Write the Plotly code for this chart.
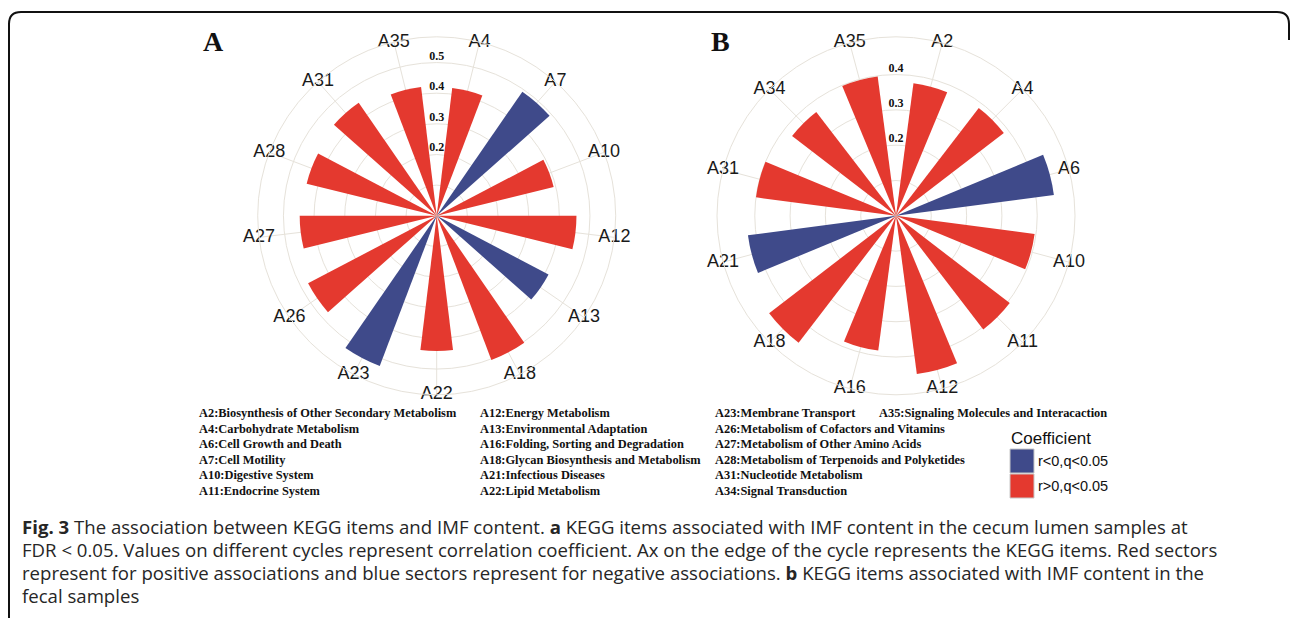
import plotly.graph_objects as go

# ---------------- data ----------------
cats_a = ["A4", "A7", "A10", "A12", "A13", "A18", "A22", "A23", "A26", "A27", "A28", "A31", "A35"]
coef_a = [0.420, -0.492, 0.393, 0.456, -0.412, 0.503, 0.441, -0.524, 0.474, 0.447, 0.437, 0.448, 0.423]
ticks_a = [0.2, 0.3, 0.4, 0.5]
grid_a = [0.1, 0.2, 0.3, 0.4, 0.5]

cats_b = ["A2", "A4", "A6", "A10", "A11", "A12", "A16", "A18", "A21", "A31", "A34", "A35"]
coef_b = [0.379, 0.385, -0.451, 0.396, 0.406, 0.452, 0.385, 0.453, -0.423, 0.400, 0.371, 0.398]
ticks_b = [0.2, 0.3, 0.4]
grid_b = [0.1, 0.2, 0.3, 0.4]

key_col1 = ["A2:Biosynthesis of Other Secondary Metabolism", "A4:Carbohydrate Metabolism",
            "A6:Cell Growth and Death", "A7:Cell Motility", "A10:Digestive System", "A11:Endocrine System"]
key_col2 = ["A12:Energy Metabolism", "A13:Environmental Adaptation", "A16:Folding, Sorting and Degradation",
            "A18:Glycan Biosynthesis and Metabolism", "A21:Infectious Diseases", "A22:Lipid Metabolism"]
key_col3 = ["A23:Membrane Transport", "A26:Metabolism of Cofactors and Vitamins",
            "A27:Metabolism of Other Amino Acids", "A28:Metabolism of Terpenoids and Polyketides",
            "A31:Nucleotide Metabolism", "A34:Signal Transduction"]
key_extra = "A35:Signaling Molecules and Interacaction"

legend_title = "Coefficient"
legend_labels = ["r<0,q<0.05", "r>0,q<0.05"]

caption_lines = [
    "<b>Fig. 3</b> The association between KEGG items and IMF content. <b>a</b> KEGG items associated with IMF content in the cecum lumen samples at",
    "FDR &lt; 0.05. Values on different cycles represent correlation coefficient. Ax on the edge of the cycle represents the KEGG items. Red sectors",
    "represent for positive associations and blue sectors represent for negative associations. <b>b</b> KEGG items associated with IMF content in the",
    "fecal samples",
]

# ---------------- style ----------------
W, H = 1290, 618
RED = "#E4392F"
BLUE = "#3F4A8A"
GRID = "#E6E2DA"
SANS = "Liberation Sans, Arial, sans-serif"
SERIF = "Liberation Serif, Times New Roman, serif"


def px(x):
    return x / W


def py(y):
    return 1 - y / H


fig = go.Figure()


def add_panel(cats, coefs, ticks, grid, polar_name, rmax):
    n = len(cats)
    step = 360.0 / n
    theta = [i * step for i in range(n)]
    r = [abs(c) for c in coefs]
    colors = [RED if c > 0 else BLUE for c in coefs]
    fig.add_trace(go.Barpolar(r=r, theta=theta, width=[step * 0.5] * n,
                              marker=dict(color=colors, line=dict(width=0)),
                              subplot=polar_name, hoverinfo="skip"))
    # category labels sitting on the outer ring
    fig.add_trace(go.Scatterpolar(r=[rmax] * n, theta=theta, mode="text", text=cats,
                                  textposition="middle center", cliponaxis=False,
                                  textfont=dict(family=SANS, size=18, color="#1a1a1a"),
                                  subplot=polar_name, hoverinfo="skip"))
    # radial tick values along the top direction
    fig.add_trace(go.Scatterpolar(r=ticks, theta=[-step / 2] * len(ticks), mode="text",
                                  text=[f"<b>{t:.1f}</b>" for t in ticks], textposition="top center",
                                  cliponaxis=False,
                                  textfont=dict(family=SERIF, size=12, color="#111"),
                                  subplot=polar_name, hoverinfo="skip"))
    return dict(
        bgcolor="white",
        radialaxis=dict(range=[0, rmax], tickmode="array", tickvals=grid, showticklabels=False,
                        ticks="", showline=False, gridcolor=GRID, gridwidth=1),
        angularaxis=dict(type="linear", thetaunit="degrees", direction="clockwise",
                         rotation=90 - step / 2, tickmode="array", tickvals=theta,
                         showticklabels=False, ticks="", showline=True, linecolor=GRID,
                         linewidth=1, gridcolor=GRID, gridwidth=1),
    )


R = 179
ca = (436.7, 215.8)
cb = (896.0, 215.8)
pa = add_panel(cats_a, coef_a, ticks_a, grid_a, "polar", 0.584)
pa["domain"] = dict(x=[px(ca[0] - R), px(ca[0] + R)], y=[py(ca[1] + R), py(ca[1] - R)])
pb = add_panel(cats_b, coef_b, ticks_b, grid_b, "polar2", 0.507)
pb["domain"] = dict(x=[px(cb[0] - R), px(cb[0] + R)], y=[py(cb[1] + R), py(cb[1] - R)])

annotations = []
# panel letters
for letter, x in (("A", 213), ("B", 720)):
    annotations.append(dict(x=px(x), y=py(42), xref="paper", yref="paper", text=f"<b>{letter}</b>",
                            showarrow=False, font=dict(family=SERIF, size=28, color="#111"),
                            xanchor="center", yanchor="middle"))

# key text
KEYFONT = dict(family=SERIF, size=12.4, color="#111")
line_y = [413, 429, 444, 460, 475, 491]
for col, x0 in ((key_col1, 197), (key_col2, 478), (key_col3, 713)):
    for t, yy in zip(col, line_y):
        annotations.append(dict(x=px(x0), y=py(yy), xref="paper", yref="paper", text=f"<b>{t}</b>",
                                showarrow=False, font=KEYFONT, xanchor="left", yanchor="middle"))
annotations.append(dict(x=px(877), y=py(line_y[0]), xref="paper", yref="paper", text=f"<b>{key_extra}</b>",
                        showarrow=False, font=KEYFONT, xanchor="left", yanchor="middle"))

# legend
annotations.append(dict(x=px(1009), y=py(438), xref="paper", yref="paper", text=legend_title,
                        showarrow=False, font=dict(family=SANS, size=17, color="#111"),
                        xanchor="left", yanchor="middle"))
for lab, yy in zip(legend_labels, (461, 486)):
    annotations.append(dict(x=px(1036), y=py(yy), xref="paper", yref="paper", text=lab,
                            showarrow=False, font=dict(family=SANS, size=14.5, color="#111"),
                            xanchor="left", yanchor="middle"))

# caption
for t, yy in zip(caption_lines, (526.5, 549.5, 572.5, 595.5)):
    annotations.append(dict(x=px(20), y=py(yy), xref="paper", yref="paper", text=t,
                            showarrow=False, font=dict(family="Open Sans, sans-serif", size=18.6, color="#262626"),
                            xanchor="left", yanchor="middle"))

shapes = [
    dict(type="rect", xref="paper", yref="paper", x0=px(1010), x1=px(1034), y0=py(473), y1=py(449),
         fillcolor=BLUE, line=dict(color="#c8c8c8", width=1)),
    dict(type="rect", xref="paper", yref="paper", x0=px(1010), x1=px(1034), y0=py(498), y1=py(474),
         fillcolor=RED, line=dict(color="#c8c8c8", width=1)),
    dict(type="path", xref="paper", yref="paper",
         path=(f"M {px(9)},{py(618)} L {px(9)},{py(24)} Q {px(9)},{py(12)} {px(21)},{py(12)} "
               f"L {px(1277)},{py(12)} Q {px(1289)},{py(12)} {px(1289)},{py(24)} L {px(1289)},{py(40)}"),
         line=dict(color="#111", width=2)),
]

fig.update_layout(
    width=W, height=H, margin=dict(l=0, r=0, t=0, b=0),
    paper_bgcolor="white", plot_bgcolor="white", showlegend=False,
    polar=pa, polar2=pb, annotations=annotations, shapes=shapes,
)

fig.write_html("out.html", config={"displayModeBar": False},
               post_script="document.body.style.margin='0';document.body.style.padding='0';"
                           "document.body.style.overflow='hidden';")
